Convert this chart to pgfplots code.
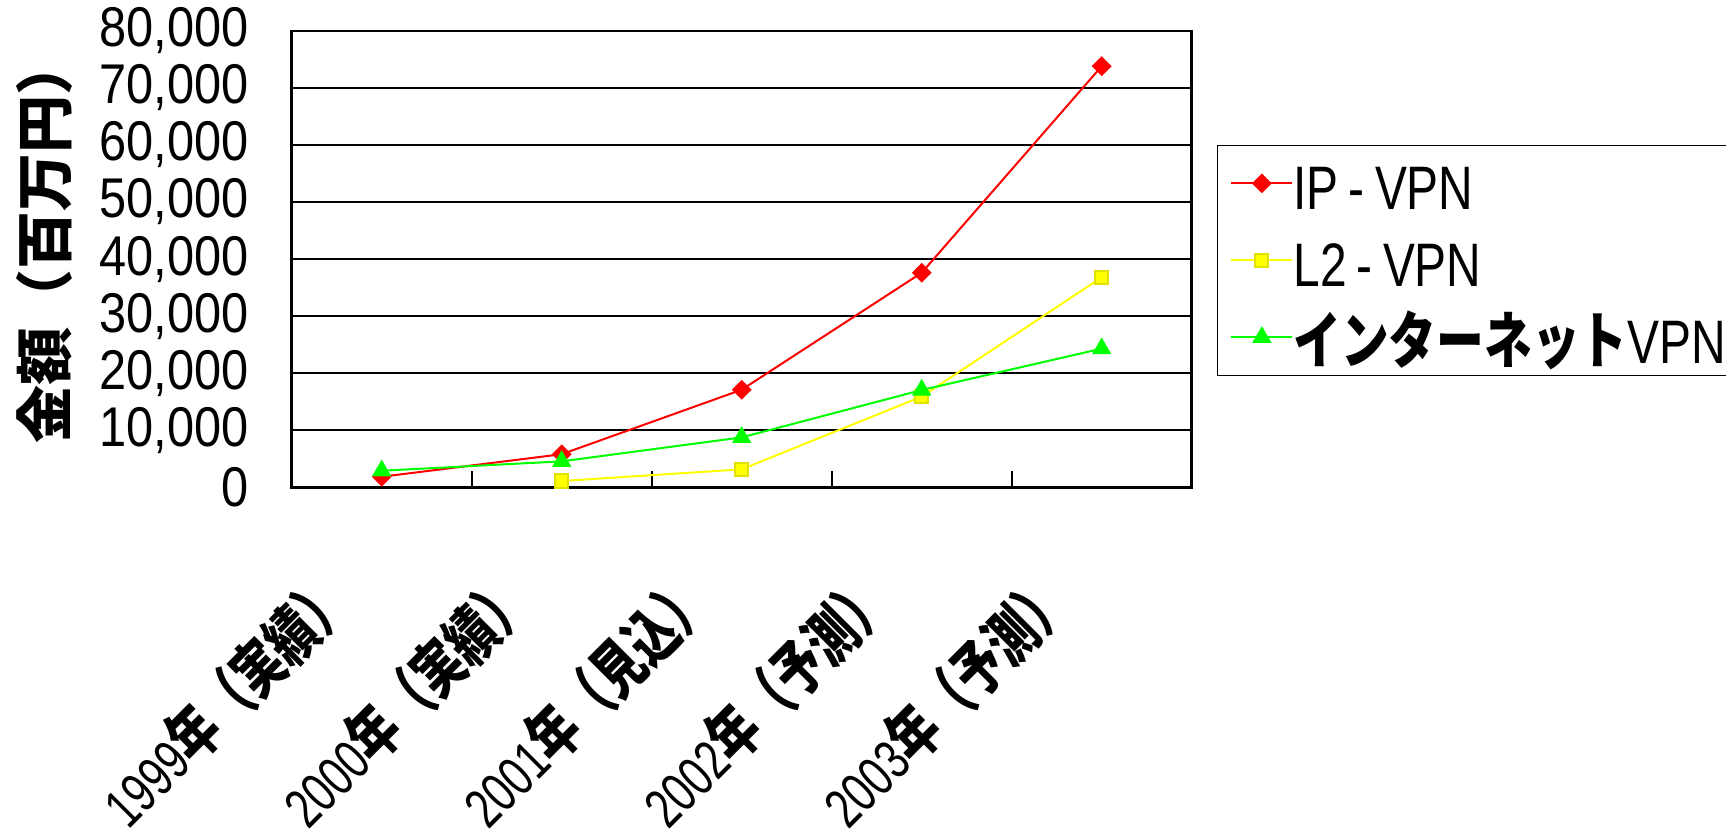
\documentclass[border=0pt]{standalone}
\usepackage{fontspec}
\usepackage{pgfplots}
\pgfplotsset{compat=1.18}
\newfontfamily\tickfont{Liberation Sans}[FakeStretch=0.87]
\newfontfamily\xfont{Liberation Sans}[FakeStretch=0.74]
\newfontfamily\legfont{Liberation Sans}[FakeStretch=0.78]
\newfontfamily\cjk{Noto Sans CJK JP}
\newfontfamily\cjkx{Noto Sans CJK JP}[FakeStretch=0.74]
\newfontfamily\cjkn{Noto Sans CJK JP}[FakeStretch=0.77]
\definecolor{ipred}{RGB}{255,0,0}
\definecolor{l2yel}{RGB}{255,255,0}
\definecolor{l2edge}{RGB}{225,225,0}
\definecolor{invgreen}{RGB}{0,255,0}
\newcommand{\xl}[2]{{\xfont #1}{\fontsize{31}{33}\selectfont\cjkx\bfseries #2}}
\begin{document}
\begin{tikzpicture}
\begin{axis}[
  at={(0,0)}, anchor=south west,
  scale only axis, width=450pt, height=228.25pt,
  xmin=0.5, xmax=5.5, ymin=0, ymax=80000,
  xtick={1,2,3,4,5},
  xticklabels={\xl{1999}{年（実績）},\xl{2000}{年（実績）},\xl{2001}{年（見込）},\xl{2002}{年（予測）},\xl{2003}{年（予測）}},
  major tick length=0pt,
  extra x ticks={1.5,2.5,3.5,4.5},
  extra x tick labels={},
  extra x tick style={major tick length=8pt, tick align=inside, major tick style={black, line width=1pt}},
  xtick pos=bottom, ytick pos=left,
  ytick={0,10000,...,80000},
  scaled y ticks=false,
  /pgf/number format/1000 sep={,},
  /pgf/number format/assume math mode=true,
  yticklabel style={font={\fontsize{28}{30}\selectfont\tickfont}, inner sep=0pt, anchor=east, xshift=-21.5pt},
  xticklabel style={font={\fontsize{28}{30}\selectfont}, inner sep=0pt, xshift=-21pt, yshift=-49.5pt, rotate=45, anchor=east},
  ylabel={\cjk\bfseries 金額（百万円）},
  ylabel style={at={(axis description cs:-0.2752,0.54)}, anchor=center, font={\fontsize{29}{31}\selectfont}, inner sep=0pt},
  ymajorgrids, grid style={black, line width=0.9pt},
  axis line style={black, line width=1.3pt},
  legend style={at={(axis description cs:1,0.7507)}, anchor=north west, xshift=12.5pt,
    draw=black, line width=0.7pt, fill=white,
    inner xsep=6.5pt, inner ysep=6pt, row sep=12.5pt,
    nodes={inner sep=0pt, text height=26pt, text depth=0pt},
    /tikz/every even column/.append style={column sep=12.5pt}},
  legend cell align=left,
  legend image code/.code={\draw[mark repeat=2,mark phase=2,#1] plot coordinates {(0pt,0pt) (15.25pt,0pt) (30.5pt,0pt)};},
]
\addplot[ipred, line width=1pt, mark=square*, mark size=3pt, mark options={rotate=45, fill=ipred, draw=ipred}]
  coordinates {(1,1850) (2,5800) (3,17100) (4,37600) (5,73800)};
\addlegendentry{\fontsize{30.7}{32}\selectfont\legfont IP\,-\,VPN}
\addplot[l2yel, line width=1pt, mark=square*, mark size=3.3pt, mark options={fill=l2yel, draw=l2edge}]
  coordinates {(2,1100) (3,3150) (4,15900) (5,36800)};
\addlegendentry{\fontsize{30.7}{32}\selectfont\legfont L2\,-\,VPN}
\addplot[invgreen, line width=1pt, mark=triangle*, mark size=4.6pt, mark options={fill=invgreen, draw=invgreen}]
  coordinates {(1,2900) (2,4550) (3,8750) (4,17050) (5,24300)};
\addlegendentry{\fontsize{30.7}{32}\selectfont{\fontsize{31}{33}\selectfont\cjkn\bfseries インターネット}{\legfont VPN}}
\end{axis}
\pgfresetboundingbox
\path[use as bounding box] (-145.85pt,-174.35pt) rectangle (717.15pt,243.65pt);
\end{tikzpicture}
\end{document}
